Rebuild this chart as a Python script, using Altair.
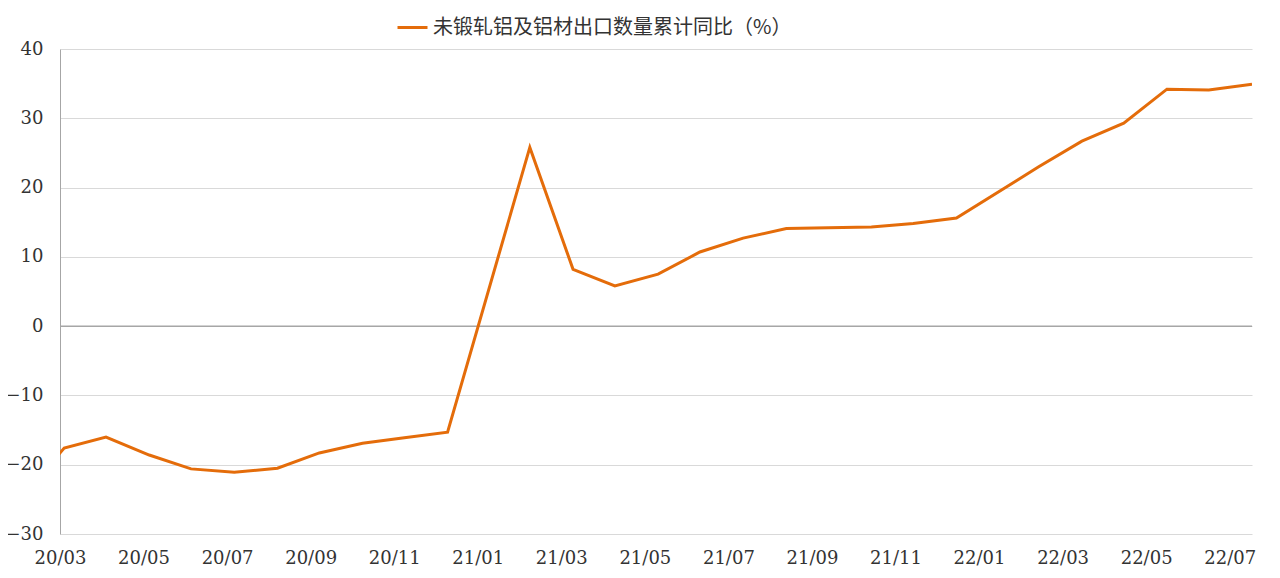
import altair as alt
import pandas as pd

series_name = "未锻轧铝及铝材出口数量累计同比（%）"

dates = [
    "2020-02-29", "2020-03-31", "2020-04-30", "2020-05-31", "2020-06-30",
    "2020-07-31", "2020-08-31", "2020-09-30", "2020-10-31", "2020-11-30",
    "2020-12-31", "2021-02-28", "2021-03-31", "2021-04-30", "2021-05-31",
    "2021-06-30", "2021-07-31", "2021-08-31", "2021-09-30", "2021-10-31",
    "2021-11-30", "2021-12-31", "2022-02-28", "2022-03-31", "2022-04-30",
    "2022-05-31", "2022-06-30", "2022-07-31",
]
values = [
    -25.0, -17.6, -16.0, -18.6, -20.6,
    -21.1, -20.5, -18.3, -16.9, -16.1,
    -15.3, 25.8, 8.2, 5.8, 7.5,
    10.7, 12.7, 14.1, 14.2, 14.3,
    14.8, 15.6, 23.0, 26.7, 29.3,
    34.2, 34.1, 34.9,
]

# x-axis labels (evenly spaced, as in the original category axis)
tick_labels = ["20/03", "20/05", "20/07", "20/09", "20/11", "21/01", "21/03",
               "21/05", "21/07", "21/09", "21/11", "22/01", "22/03", "22/05", "22/07"]
first_tick = pd.Timestamp("2020-03-28")
last_tick = pd.Timestamp("2022-07-15")
n = len(tick_labels)
tick_ms = [int((first_tick + (last_tick - first_tick) * k / (n - 1)).value // 10**6) for k in range(n)]
label_expr = "[" + ",".join("'" + t + "'" for t in tick_labels) + "][indexof(" + \
    "[" + ",".join(str(t) for t in tick_ms) + "], +datum.value)]"

df = pd.DataFrame({"date": dates, "value": values, "series": series_name})

orange = "#E46C0A"
serif = "DejaVu Serif"

x = alt.X(
    "date:T",
    scale=alt.Scale(type="utc",
                    domain=[alt.DateTime(year=2020, month=3, date=28, utc=True),
                            alt.DateTime(year=2022, month=7, date=31, utc=True)]),
    axis=alt.Axis(values=tick_ms, labelExpr=label_expr, title=None, grid=False, domain=False,
                  ticks=False, labelFont=serif, labelFontSize=18, labelColor="#333333",
                  labelPadding=15, labelFlush=False, labelOverlap=False, labelBound=False,
                  labelAngle=0),
)
y = alt.Y(
    "value:Q",
    scale=alt.Scale(domain=[-30, 40], nice=False, zero=False),
    axis=alt.Axis(values=[-30, -20, -10, 0, 10, 20, 30, 40], title=None, grid=True,
                  gridColor="#d9d9d9", gridWidth=1, domain=True, domainColor="#a6a6a6",
                  domainWidth=1, ticks=False, labelFont=serif, labelFontSize=18,
                  labelColor="#333333", labelPadding=17),
)

line = alt.Chart(df).mark_line(strokeWidth=3, clip=True).encode(
    x=x,
    y=y,
    color=alt.Color(
        "series:N",
        scale=alt.Scale(domain=[series_name], range=[orange]),
        legend=alt.Legend(orient="none", legendX=336, legendY=-38, title=None,
                          symbolType="stroke", symbolSize=900, symbolStrokeWidth=3,
                          labelFont="Noto Sans CJK SC", labelFontSize=20, labelLimit=0,
                          labelColor="#333333", labelOffset=4, padding=0),
    ),
)

zero = alt.Chart(pd.DataFrame({"z": [0]})).mark_rule(color="#a6a6a6", strokeWidth=1.5).encode(
    y=alt.Y("z:Q", scale=alt.Scale(domain=[-30, 40], nice=False, zero=False))
)

chart = alt.layer(zero, line).properties(
    width=1192,
    height=485,
    autosize=alt.AutoSizeParams(type="none"),
    padding={"left": 52, "top": 41, "right": 20, "bottom": 40},
).configure_view(stroke=None)

chart.save("out.html", embed_options={"renderer": "svg", "actions": False})
